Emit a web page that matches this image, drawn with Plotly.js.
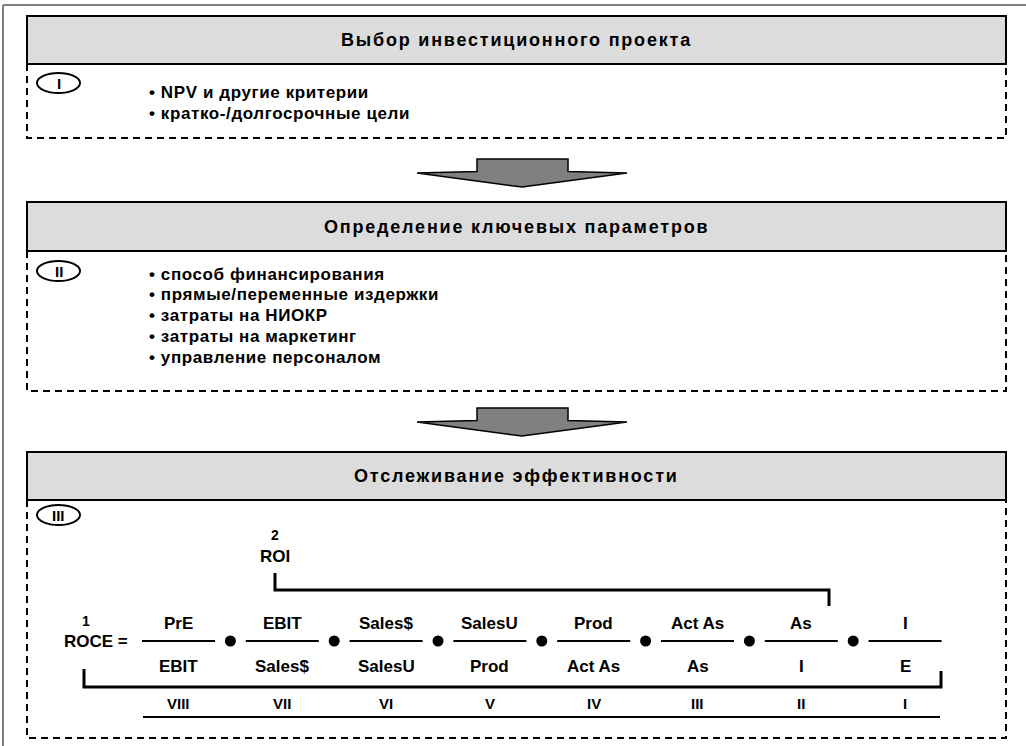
<!DOCTYPE html>
<html>
<head>
<meta charset="utf-8">
<script src="https://cdn.plot.ly/plotly-3.0.1.min.js"></script>
<style>html,body{margin:0;padding:0;background:#fff;}</style>
</head>
<body>
<div id="chart" style="width:1026px;height:746px;"></div>
<script>
// ---- content ----
const stageTitles = ["Выбор инвестиционного проекта", "Определение ключевых параметров", "Отслеживание эффективности"];
const stageNumerals = ["I", "II", "III"];
const stage1Items = ["NPV и другие критерии", "кратко-/долгосрочные цели"];
const stage2Items = ["способ финансирования", "прямые/переменные издержки", "затраты на НИОКР", "затраты на маркетинг", "управление персоналом"];
const numerators = ["PrE", "EBIT", "Sales$", "SalesU", "Prod", "Act As", "As", "I"];
const denominators = ["EBIT", "Sales$", "SalesU", "Prod", "Act As", "As", "I", "E"];
const levels = ["VIII", "VII", "VI", "V", "IV", "III", "II", "I"];
const ratioLabels = ["ROCE =", "ROI"];
const ratioNumbers = ["1", "2"];

// ---- layout geometry ----
const FONT = "Liberation Sans, Arial, sans-serif";
const X0 = 27, X1 = 1006;
const stages = [
  {hTop: 16, hBot: 64, bBot: 138, circY: 83, items: stage1Items, itemY0: 92, itemDy: 21},
  {hTop: 202, hBot: 251, bBot: 391, circY: 271, items: stage2Items, itemY0: 274, itemDy: 20.8},
  {hTop: 452, hBot: 500, bBot: 738, circY: 515, items: [], itemY0: 0, itemDy: 0}
];
const arrows = [{top: 159, wing: 173, tip: 187}, {top: 408, wing: 422, tip: 436}];

const shapes = [];
const ann = [];

// outer frame
shapes.push({type: 'line', x0: 3, x1: 3, y0: 5, y1: 746, line: {color: '#7f7f7f', width: 2}});
shapes.push({type: 'line', x0: 3, x1: 1026, y0: 5, y1: 5, line: {color: '#7f7f7f', width: 2}});

stages.forEach((s, i) => {
  // dashed body
  shapes.push({type: 'path', path: `M ${X0} ${s.hBot} V ${s.bBot} H ${X1} V ${s.hBot}`,
    line: {color: '#000', width: 2, dash: '7px,5px'}});
  // header
  shapes.push({type: 'rect', x0: X0, x1: X1, y0: s.hTop, y1: s.hBot,
    fillcolor: '#dcdcdc', line: {color: '#000', width: 2}});
  ann.push({x: (X0 + X1) / 2, y: (s.hTop + s.hBot) / 2,
    text: `<span style="letter-spacing:1.8px">${stageTitles[i]}</span>`,
    font: {family: FONT, size: 18, color: '#000', weight: 700}});
  // numeral ellipse
  shapes.push({type: 'circle', x0: 37, x1: 80, y0: s.circY - 10, y1: s.circY + 10,
    line: {color: '#000', width: 2}, fillcolor: 'rgba(0,0,0,0)'});
  ann.push({x: 58.5, y: s.circY + 0.5, text: stageNumerals[i],
    font: {family: FONT, size: 15, color: '#000', weight: 700}});
  s.items.forEach((t, k) => {
    ann.push({x: 147, y: s.itemY0 + k * s.itemDy, xanchor: 'left',
      text: `<span style="letter-spacing:0.6px">• ${t}</span>`,
      font: {family: FONT, size: 17, color: '#000', weight: 700}});
  });
});

// arrows
arrows.forEach(a => {
  shapes.push({type: 'path',
    path: `M 417 ${a.wing} L 477 ${a.wing - 1.5} L 477 ${a.top} L 568 ${a.top} L 568 ${a.wing - 1.5} L 627 ${a.wing} L 522 ${a.tip} Z`,
    fillcolor: '#808080', line: {color: '#000', width: 1.5}});
});

// ratio chain
const C0 = 178.5, DX = 103.8, HALF = 36.5, LINE_Y = 641;
const centers = numerators.map((_, i) => C0 + i * DX);
centers.forEach((c, i) => {
  shapes.push({type: 'line', x0: c - HALF, x1: c + HALF, y0: LINE_Y, y1: LINE_Y, line: {color: '#000', width: 2}});
  ann.push({x: c, y: 623, text: numerators[i], font: {family: FONT, size: 17, color: '#000', weight: 700}});
  ann.push({x: c, y: 666, text: denominators[i], font: {family: FONT, size: 17, color: '#000', weight: 700}});
  ann.push({x: c, y: 703, text: levels[i], font: {family: FONT, size: 15, color: '#000', weight: 700}});
});
const dotX = centers.slice(0, -1).map((c, i) => (c + centers[i + 1]) / 2);

ann.push({x: 96, y: 641, text: ratioLabels[0], font: {family: FONT, size: 17, color: '#000', weight: 700}});
ann.push({x: 86, y: 621, text: ratioNumbers[0], font: {family: FONT, size: 14, color: '#000', weight: 700}});
ann.push({x: 275, y: 556, text: ratioLabels[1], font: {family: FONT, size: 17, color: '#000', weight: 700}});
ann.push({x: 275, y: 535, text: ratioNumbers[1], font: {family: FONT, size: 14, color: '#000', weight: 700}});

// brackets
shapes.push({type: 'path', path: 'M 275 573 V 590 H 829 V 606', line: {color: '#000', width: 3}});
shapes.push({type: 'path', path: 'M 84 669 V 687 H 941 V 671', line: {color: '#000', width: 3}});
shapes.push({type: 'line', x0: 143, x1: 940, y0: 717, y1: 717, line: {color: '#000', width: 2}});

ann.forEach(a => { a.xref = 'x'; a.yref = 'y'; a.showarrow = false; if (!a.xanchor) a.xanchor = 'center'; a.yanchor = 'middle'; });

const data = [{
  type: 'scatter', mode: 'markers', x: dotX, y: dotX.map(() => LINE_Y),
  marker: {size: 11, color: '#000'}, hoverinfo: 'skip', showlegend: false
}];

const layout = {
  width: 1026, height: 746,
  margin: {l: 0, r: 0, t: 0, b: 0},
  paper_bgcolor: '#fff', plot_bgcolor: '#fff',
  xaxis: {range: [0, 1026], visible: false, fixedrange: true},
  yaxis: {range: [746, 0], visible: false, fixedrange: true},
  shapes: shapes, annotations: ann, showlegend: false
};
Plotly.newPlot('chart', data, layout, {displayModeBar: false, staticPlot: true});
</script>
</body>
</html>
